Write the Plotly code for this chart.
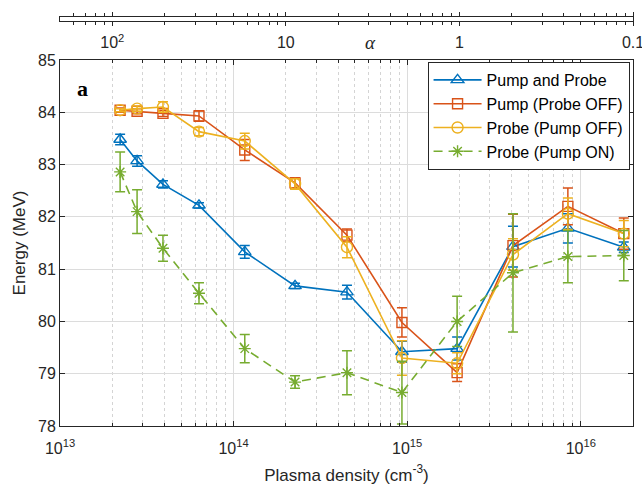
import numpy as np
import plotly.graph_objects as go

# ---------------- data ----------------
density = [2.22e13, 2.78e13, 3.92e13, 6.32e13, 1.16e14, 2.26e14, 4.5e14,
           9.33e14, 1.94e15, 4.07e15, 8.43e15, 1.77e16]

pump_probe = [83.48, 83.07, 82.62, 82.22, 81.33, 80.68, 80.56, 79.42, 79.48, 81.43, 81.78, 81.42]
pump_probe_err = [0.10, 0.10, 0.07, 0.05, 0.12, 0.05, 0.13, 0.20, 0.22, 0.39, 0.28, 0.10]

pump_off = [84.04, 84.02, 83.98, 83.93, 83.28, 82.65, 81.65, 79.98, 79.02, 81.45, 82.20, 81.68]
pump_off_err = [0.04, 0.05, 0.06, 0.10, 0.20, 0.10, 0.12, 0.28, 0.17, 0.60, 0.35, 0.30]

probe_off = [84.04, 84.07, 84.10, 83.63, 83.45, 82.63, 81.42, 79.30, 79.20, 81.28, 82.06, 81.68]
probe_off_err = [0.03, 0.05, 0.10, 0.08, 0.15, 0.10, 0.20, 0.33, 0.20, 0.30, 0.30, 0.25]

probe_on = [82.86, 82.10, 81.40, 80.54, 79.48, 78.84, 79.02, 78.64, 80.00, 80.93, 81.24, 81.26]
probe_on_err = [0.38, 0.42, 0.25, 0.20, 0.27, 0.12, 0.42, 0.60, 0.48, 1.13, 0.50, 0.48]

x_major = [1e13, 1e14, 1e15, 1e16]
x_major_text = ["10<sup>13</sup>", "10<sup>14</sup>", "10<sup>15</sup>", "10<sup>16</sup>"]
y_ticks = [78, 79, 80, 81, 82, 83, 84, 85]

# top alpha axis: alpha = 2e15 / density
alpha_major = [100, 10, 1, 0.1]
alpha_text = ["10<sup>2</sup>", "10", "1", "0.1"]
alpha_scale = 2e15

# ---------------- styling ----------------
FONT = "Liberation Sans, Arial, sans-serif"
C_BLUE, C_RED, C_YEL, C_GRN = "#0072BD", "#D95319", "#EDB120", "#77AC30"

xr = [13, np.log10(2e16)]
minor_vals = [k * 10.0 ** d for d in range(13, 17) for k in range(2, 10) if k * 10.0 ** d <= 2e16]

fig = go.Figure()


def add(y, err, name, color, symbol, dash="solid", size=10):
    fig.add_trace(go.Scatter(
        x=density, y=y, name=name, mode="lines+markers",
        line=dict(color=color, width=1.6, dash=dash),
        marker=dict(symbol=symbol, size=size, color=color, line=dict(color=color, width=1.4)),
        error_y=dict(type="data", array=err, visible=True, color=color, thickness=1.5, width=5),
        xaxis="x", yaxis="y",
    ))


add(pump_probe, pump_probe_err, "Pump and Probe", C_BLUE, "triangle-up-open", size=11)
add(pump_off, pump_off_err, "Pump (Probe OFF)", C_RED, "square-open", size=10)
add(probe_off, probe_off_err, "Probe (Pump OFF)", C_YEL, "circle-open", size=11)
add(probe_on, probe_on_err, "Probe (Pump ON)", C_GRN, "asterisk-open", dash="9px,6px", size=10)

# invisible trace to establish the top (alpha) axis
fig.add_trace(go.Scatter(x=[alpha_scale / a for a in alpha_major], y=[0.5] * 4,
                         mode="markers", marker=dict(opacity=0), showlegend=False,
                         hoverinfo="skip", xaxis="x2", yaxis="y2"))

plot_h = 494 - 17 - 68
main_top = (426 - 60) / plot_h

fig.update_layout(
    width=642, height=494,
    margin=dict(l=60, r=9, t=17, b=68, autoexpand=False),
    paper_bgcolor="white", plot_bgcolor="white",
    font=dict(family=FONT, size=15, color="#262626"),
    xaxis=dict(
        type="log", range=xr, domain=[0, 1], anchor="y", automargin=False,
        tickvals=x_major, ticktext=x_major_text,
        ticks="inside", ticklen=5, tickcolor="#262626",
        showline=True, linecolor="#262626", linewidth=1, mirror="ticks",
        showgrid=True, gridcolor="#dcdcdc", gridwidth=1,
        minor=dict(tickmode="array", tickvals=minor_vals, ticks="inside", ticklen=3,
                   tickcolor="#262626", showgrid=True, gridcolor="#d4d4d4", griddash="dot"),
        tickfont=dict(size=16), ticklabelstandoff=8,
        title=dict(text="Plasma density (cm<sup>-3</sup>)", font=dict(size=17), standoff=12),
        zeroline=False,
    ),
    yaxis=dict(
        range=[78, 85], domain=[0, main_top], anchor="x", automargin=False,
        tickvals=y_ticks, ticks="inside", ticklen=5, tickcolor="#262626",
        showline=True, linecolor="#262626", linewidth=1, mirror="ticks",
        showgrid=True, gridcolor="#dcdcdc", gridwidth=1, zeroline=False,
        tickfont=dict(size=16),
        title=dict(text="Energy (MeV)", font=dict(size=17), standoff=8),
    ),
    xaxis2=dict(
        type="log", range=xr, domain=[0, 1], anchor="y2", side="bottom", automargin=False,
        tickvals=[alpha_scale / a for a in alpha_major], ticktext=alpha_text,
        ticks="outside", ticklen=4, tickwidth=1.2, tickcolor="#262626",
        minor=dict(tickmode="array",
                   tickvals=[k * 10.0 ** d for d in range(12, 16) for k in (2, 4, 6, 8, 10, 12, 14, 16, 18)
                             if 1e13 < k * 10.0 ** d < 2e16 and k not in (2, 20)],
                   ticks="outside", ticklen=2.5, tickcolor="#262626"),
        showline=True, linecolor="#262626", linewidth=1.2, mirror="ticks",
        showgrid=False, zeroline=False, tickfont=dict(size=16),
        ticklabelstandoff=3, ticklabeloverflow="allow",
    ),
    yaxis2=dict(
        range=[0, 1], domain=[1 - 4 / plot_h, 1], anchor="x2", automargin=False,
        showline=True, linecolor="#262626", linewidth=1.2, mirror=True,
        showticklabels=False, ticks="", showgrid=False, zeroline=False,
    ),
    legend=dict(
        x=0.994, y=1 - (62 - 17) / plot_h, xanchor="right", yanchor="top",
        bgcolor="white", bordercolor="#262626", borderwidth=1,
        font=dict(size=16, family=FONT, color="#000000"),
        tracegroupgap=0, itemwidth=48,
    ),
    showlegend=True,
)

fig.add_annotation(text="<b>a</b>", x=0.027, y=1 - (74 - 17) / plot_h, xref="paper", yref="paper",
                   showarrow=False, font=dict(family="Liberation Serif, DejaVu Serif, serif", size=22,
                                                color="#000000"))
fig.add_annotation(text="<i>α</i>", x=(370 - 60) / 573, y=1 - (30 - 17) / plot_h, xref="paper", yref="paper",
                   showarrow=False, font=dict(family="Liberation Serif, DejaVu Serif, serif", size=19,
                                                color="#262626"))

fig.write_html("out.html")
